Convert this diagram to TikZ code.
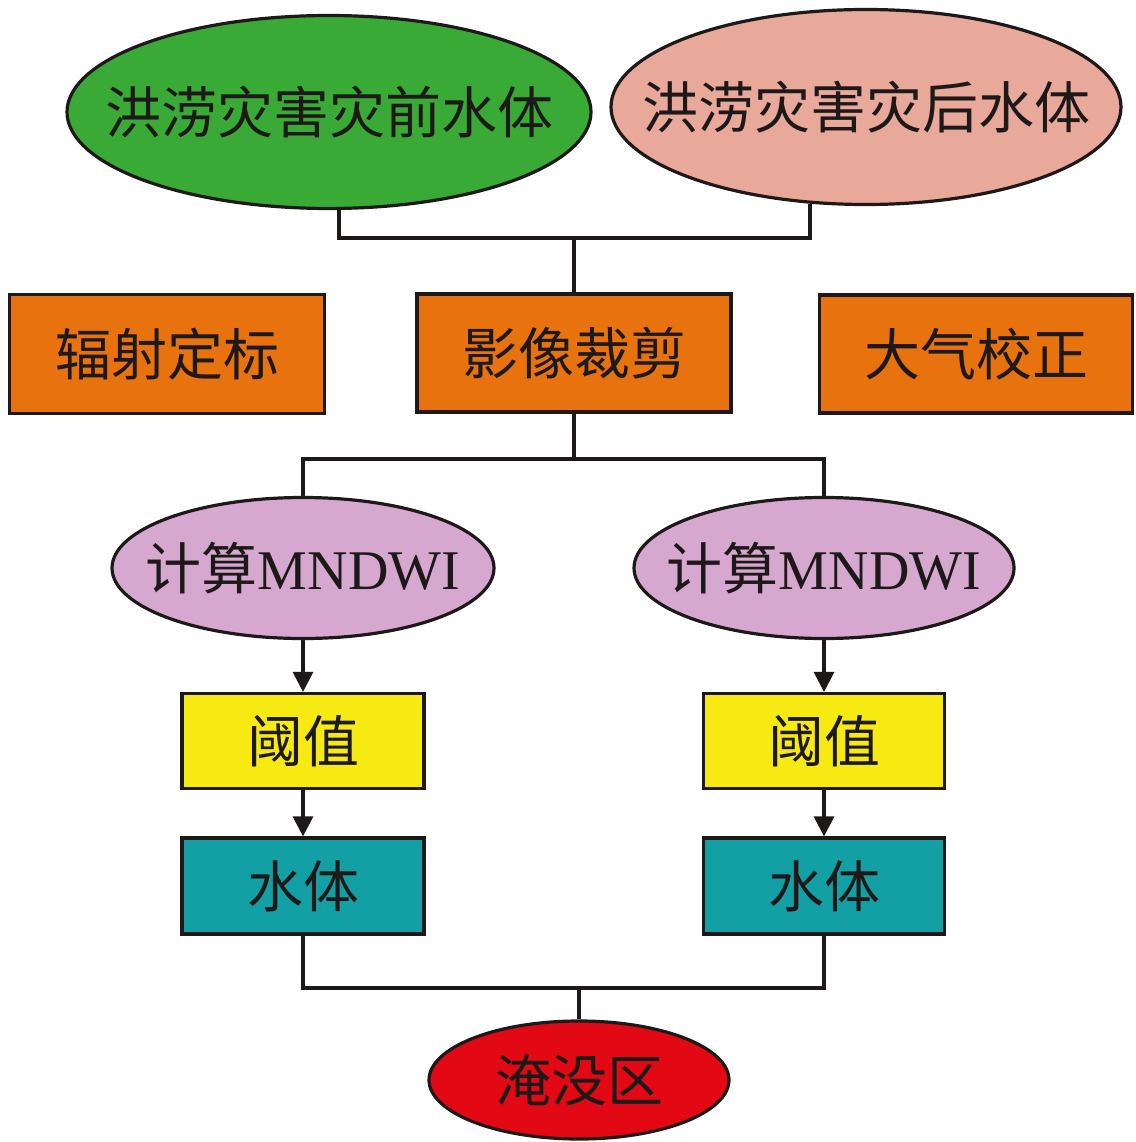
\documentclass[tikz,border=0pt]{standalone}
\usepackage{fontspec}
\setmainfont{Liberation Serif}
\newfontfamily\cjk{Noto Sans CJK SC}
\usetikzlibrary{shapes.geometric,calc,arrows.meta}
\definecolor{cgreen}{RGB}{58,170,55}
\definecolor{cpink}{RGB}{232,168,154}
\definecolor{corange}{RGB}{232,114,14}
\definecolor{cpurple}{RGB}{215,168,207}
\definecolor{cyellow}{RGB}{246,234,18}
\definecolor{cteal}{RGB}{18,160,165}
\definecolor{cred}{RGB}{226,8,20}
\definecolor{ctext}{RGB}{30,25,25}
\newcommand{\zw}[1]{\makebox[0pt]{#1}}
\begin{document}
\begin{tikzpicture}[x=1pt,y=-1pt,
  base/.style={draw=ctext,line width=3.2pt,text=ctext,inner sep=0pt,font=\fontsize{56}{60}\selectfont},
  oval/.style={base,ellipse},
  boxnode/.style={base,rectangle},
  conn/.style={draw=ctext,line width=3.2pt},
  arr/.style={conn,-{Triangle[length=20pt,width=20pt]}}]
\useasboundingbox (0,0) rectangle (1135,1142);
\node[oval,fill=cgreen,minimum width=524,minimum height=193] (pre) at (329,112) {\zw{\cjk 洪涝灾害灾前水体}};
\node[oval,fill=cpink,minimum width=510,minimum height=195] (post) at (866,107) {\zw{\cjk 洪涝灾害灾后水体}};
\node[boxnode,fill=corange,minimum width=315,minimum height=119] (rad) at (167,354) {\cjk 辐射定标};
\node[boxnode,fill=corange,minimum width=314,minimum height=118] (crop) at (574,353) {\cjk 影像裁剪};
\node[boxnode,fill=corange,minimum width=313,minimum height=118] (atm) at (976,354) {\cjk 大气校正};
\node[oval,fill=cpurple,minimum width=382,minimum height=141] (m1) at (303,568) {\zw{{\cjk 计算}MNDWI}};
\node[oval,fill=cpurple,minimum width=380,minimum height=141] (m2) at (824,568) {\zw{{\cjk 计算}MNDWI}};
\node[boxnode,fill=cyellow,minimum width=242,minimum height=95] (t1) at (303,741) {\cjk 阈值};
\node[boxnode,fill=cyellow,minimum width=241,minimum height=95] (t2) at (824,741) {\cjk 阈值};
\node[boxnode,fill=cteal,minimum width=242,minimum height=96] (w1) at (303,886) {\cjk 水体};
\node[boxnode,fill=cteal,minimum width=241,minimum height=96] (w2) at (824,886) {\cjk 水体};
\node[oval,fill=cred,minimum width=300,minimum height=118] (flood) at (579,1080) {\zw{\cjk 淹没区}};
\coordinate (j1) at (574,238);
\coordinate (j2) at (574,459);
\coordinate (j3) at (579,988);
\draw[conn] ($(pre.south)+(10,0)$) |- (j1) -| ($(post.south)+(-56,-2)$);
\draw[conn] (j1) -- (crop.north);
\draw[conn] (crop.south) -- (j2);
\draw[conn] (m1.north) |- (j2) -| (m2.north);
\draw[arr] (m1.south) -- (t1.north);
\draw[arr] (m2.south) -- (t2.north);
\draw[arr] (t1.south) -- (w1.north);
\draw[arr] (t2.south) -- (w2.north);
\draw[conn] (w1.south) |- (j3) -| (w2.south);
\draw[conn] (j3) -- (flood.north);
\end{tikzpicture}
\end{document}
